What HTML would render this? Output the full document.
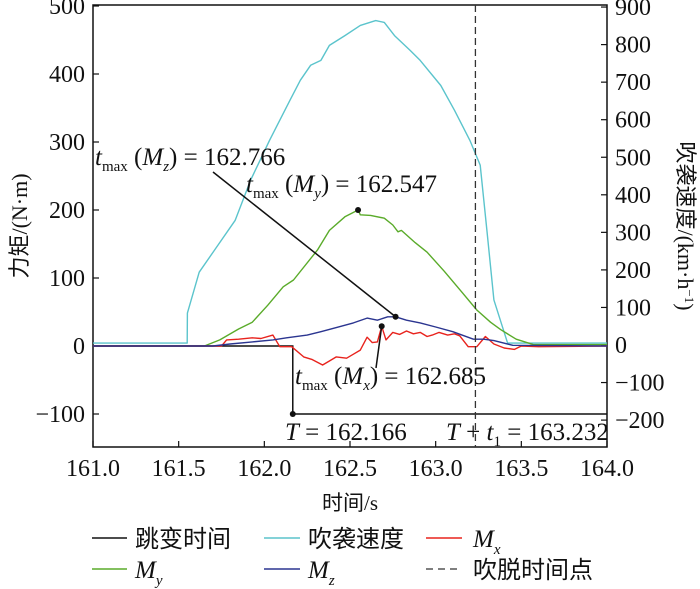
<!DOCTYPE html>
<html><head><meta charset="utf-8"><style>
body{margin:0;background:#fff;}
svg{display:block;}
text{font-family:"Liberation Serif","Noto Serif CJK SC","Noto Sans CJK SC",serif;fill:#111;}
.cjk{font-family:"Liberation Serif","Noto Sans CJK SC",sans-serif;}
</style></head><body>
<svg id="chart" width="700" height="589" viewBox="0 0 700 589" xmlns="http://www.w3.org/2000/svg">
<g id="plot"></g>
</svg>
<script>
// ---- data ----
const xTicks=[161.0,161.5,162.0,162.5,163.0,163.5,164.0];
const xTickLabels=["161.0","161.5","162.0","162.5","163.0","163.5","164.0"];
const leftTicks=[-100,0,100,200,300,400,500];
const rightTicks=[-200,-100,0,100,200,300,400,500,600,700,800,900];
const windT=[161.0,161.55,161.551,161.62,161.71,161.83,161.92,162.03,162.15,162.21,162.27,162.33,162.38,162.47,162.56,162.65,162.70,162.76,162.85,162.91,163.03,163.11,163.20,163.26,163.30,163.34,163.42,164.0];
const windV=[5,5,85,194,253,332,439,545,652,705,745,758,798,824,851,864,859,824,785,758,691,625,545,479,300,120,5,5];
const myT=[161.0,161.65,161.74,161.85,161.93,162.02,162.11,162.17,162.31,162.38,162.47,162.547,162.56,162.62,162.70,162.75,162.78,162.80,162.88,162.95,163.05,163.15,163.24,163.32,163.38,163.47,163.57,164.0];
const myV=[0,0,9,25,35,60,87,97,141,170,190,200,193,192,188,178,168,170,152,138,110,80,53,35,24,10,2,2];
const mzT=[161.0,161.70,161.80,161.93,162.05,162.13,162.25,162.33,162.42,162.52,162.60,162.66,162.72,162.766,162.83,162.91,163.0,163.1,163.22,163.28,163.34,163.45,164.0];
const mzV=[0,0,3,6,9,12,16,21,27,34,41,38,43,43,38,34,28,21,10,10,8,1,0];
const mxT=[161.0,161.75,161.78,161.85,161.93,161.98,162.05,162.09,162.16,162.23,162.28,162.34,162.38,162.42,162.48,162.52,162.56,162.60,162.63,162.66,162.685,162.71,162.75,162.79,162.83,162.87,162.91,162.95,162.98,163.02,163.07,163.11,163.14,163.19,163.24,163.29,163.34,163.40,163.46,163.5,163.6,164.0];
const mxV=[0,0,9,10,12,11,16,-1,-1,-16,-20,-28,-22,-16,-18,-12,-6,13,5,6,29,9,20,17,22,18,20,14,16,20,16,18,15,-1,-1,14,3,-3,-5,0,-1,0];
const jumpT=162.166, blowT=163.232;
// ---- scales ----
const X0=93,X1=607,Y0=5,Y1=447;
const sx=t=>X0+(t-161)/3*(X1-X0);
const sy=v=>346-v*0.68;
const sr=v=>345-v*0.3755;
const NS="http://www.w3.org/2000/svg";
const svg=document.getElementById('chart');
function mk(tag,attrs,parent){const e=document.createElementNS(NS,tag);for(const k in attrs)e.setAttribute(k,attrs[k]);(parent||svg).appendChild(e);return e;}
function txt(s,x,y,attrs){const e=mk('text',Object.assign({x:x,y:y},attrs||{}));e.textContent=s;return e;}
let e=mk('rect',{x:X0,y:Y0,width:X1-X0,height:Y1-Y0,fill:'none',stroke:'#111','stroke-width':1.5});


xTicks.forEach((t,i)=>{
 let l=mk('line',{x1:sx(t),x2:sx(t),y1:Y1,y2:Y1-6,stroke:'#111','stroke-width':1.2});
 
 
 let a=txt(xTickLabels[i],sx(t),Y1+29,{'font-size':24,'text-anchor':'middle'});
 
 
});
leftTicks.forEach(v=>{
 let l=mk('line',{x1:X0,x2:X0+6,y1:sy(v),y2:sy(v),stroke:'#111','stroke-width':1.2});
 
 
 let a=txt(v<0?'\u2212'+(-v):String(v),85,sy(v)+8,{'font-size':24,'text-anchor':'end'});
 
 
});
rightTicks.forEach(v=>{
 let l=mk('line',{x1:X1,x2:X1-6,y1:sr(v),y2:sr(v),stroke:'#111','stroke-width':1.2});
 
 
 let a=txt(v<0?'\u2212'+(-v):String(v),615,sr(v)+8,{'font-size':24});
 
 
});
function series(T,V,scale,color,name,w){
 const d=T.map((t,i)=>(i?'L':'M')+sx(t).toFixed(1)+','+scale(V[i]).toFixed(1)).join('');
 const p=mk('path',{d:d,fill:'none',stroke:color,'stroke-width':w||1.4,'stroke-linejoin':'round'});
 
 
 return p;
}
series(windT,windV,sr,'#5bc4cc','wind-speed-line');
series(myT,myV,sy,'#5aab2a','my-line');
let j=mk('path',{d:`M${X0},${sy(0)}L${sx(jumpT)},${sy(0)}L${sx(jumpT)},${sy(-100)}L${X1},${sy(-100)}`,fill:'none',stroke:'#111','stroke-width':1.5});


series(mxT,mxV,sy,'#e8231d','mx-line');
series(mzT,mzV,sy,'#2b3590','mz-line');
let dl=mk('line',{x1:sx(blowT),x2:sx(blowT),y1:Y0,y2:Y1,stroke:'#333','stroke-width':1.3,'stroke-dasharray':'7,4'});


let l1=mk('line',{x1:213,y1:172,x2:sx(162.766),y2:sy(43),stroke:'#111','stroke-width':1.5});


let l2=mk('line',{x1:376,y1:368,x2:sx(162.685),y2:sy(29),stroke:'#111','stroke-width':1.5});


[[162.766,43,'mz-peak-dot'],[162.547,200,'my-peak-dot'],[162.685,29,'mx-peak-dot'],[jumpT,-100,'jump-dot']].forEach(p=>{
 let c=mk('circle',{cx:sx(p[0]),cy:sy(p[1]),r:3,fill:'#111'});
 
 
});
</script>
<svg style="position:absolute;left:0;top:0" width="700" height="589">
<text x="95" y="165" font-size="25"><tspan font-style="italic">t</tspan><tspan font-size="15" dy="6">max</tspan><tspan dy="-6"> (</tspan><tspan font-style="italic">M</tspan><tspan font-size="15" dy="6" font-style="italic">z</tspan><tspan dy="-6">) = 162.766</tspan></text>
<text x="246" y="192" font-size="25"><tspan font-style="italic">t</tspan><tspan font-size="15" dy="6">max</tspan><tspan dy="-6"> (</tspan><tspan font-style="italic">M</tspan><tspan font-size="15" dy="6" font-style="italic">y</tspan><tspan dy="-6">) = 162.547</tspan></text>
<text x="295" y="384" font-size="25"><tspan font-style="italic">t</tspan><tspan font-size="15" dy="6">max</tspan><tspan dy="-6"> (</tspan><tspan font-style="italic">M</tspan><tspan font-size="15" dy="6" font-style="italic">x</tspan><tspan dy="-6">) = 162.685</tspan></text>
<text x="285" y="440" font-size="25"><tspan font-style="italic">T</tspan> = 162.166</text>
<text x="446" y="440" font-size="25"><tspan font-style="italic">T</tspan> + <tspan font-style="italic">t</tspan><tspan font-size="15" dy="6">1</tspan><tspan dy="-6"> = 163.232</tspan></text>
<text class="cjk" x="350" y="510" font-size="21" text-anchor="middle">时间/s</text>
<text class="cjk" transform="translate(27,226) rotate(-90)" font-size="22" text-anchor="middle">力矩/(N·m)</text>
<text class="cjk" transform="translate(678,226) rotate(90)" font-size="22" text-anchor="middle">吹袭速度/(km·h<tspan font-size="13" dy="-7">−1</tspan><tspan dy="7">)</tspan></text>
<g>
<g><line x1="92" y1="538" x2="127" y2="538" stroke="#111" stroke-width="1.5"/><text class="cjk" x="135" y="547" font-size="24">跳变时间</text></g>
<g><line x1="264" y1="538" x2="300" y2="538" stroke="#5bc4cc" stroke-width="1.5"/><text class="cjk" x="308" y="547" font-size="24">吹袭速度</text></g>
<g><line x1="426" y1="538" x2="462" y2="538" stroke="#e8231d" stroke-width="1.5"/><text x="473" y="547" font-size="25" font-style="italic">M<tspan font-size="15" dy="7">x</tspan></text></g>
<g><line x1="92" y1="569" x2="127" y2="569" stroke="#5aab2a" stroke-width="1.5"/><text x="135" y="578" font-size="25" font-style="italic">M<tspan font-size="15" dy="7">y</tspan></text></g>
<g><line x1="264" y1="569" x2="300" y2="569" stroke="#2b3590" stroke-width="1.5"/><text x="308" y="578" font-size="25" font-style="italic">M<tspan font-size="15" dy="7">z</tspan></text></g>
<g><line x1="426" y1="569" x2="462" y2="569" stroke="#333" stroke-width="1.3" stroke-dasharray="7,5"/><text class="cjk" x="473" y="578" font-size="24">吹脱时间点</text></g>
</g>
</svg>
</body></html>
